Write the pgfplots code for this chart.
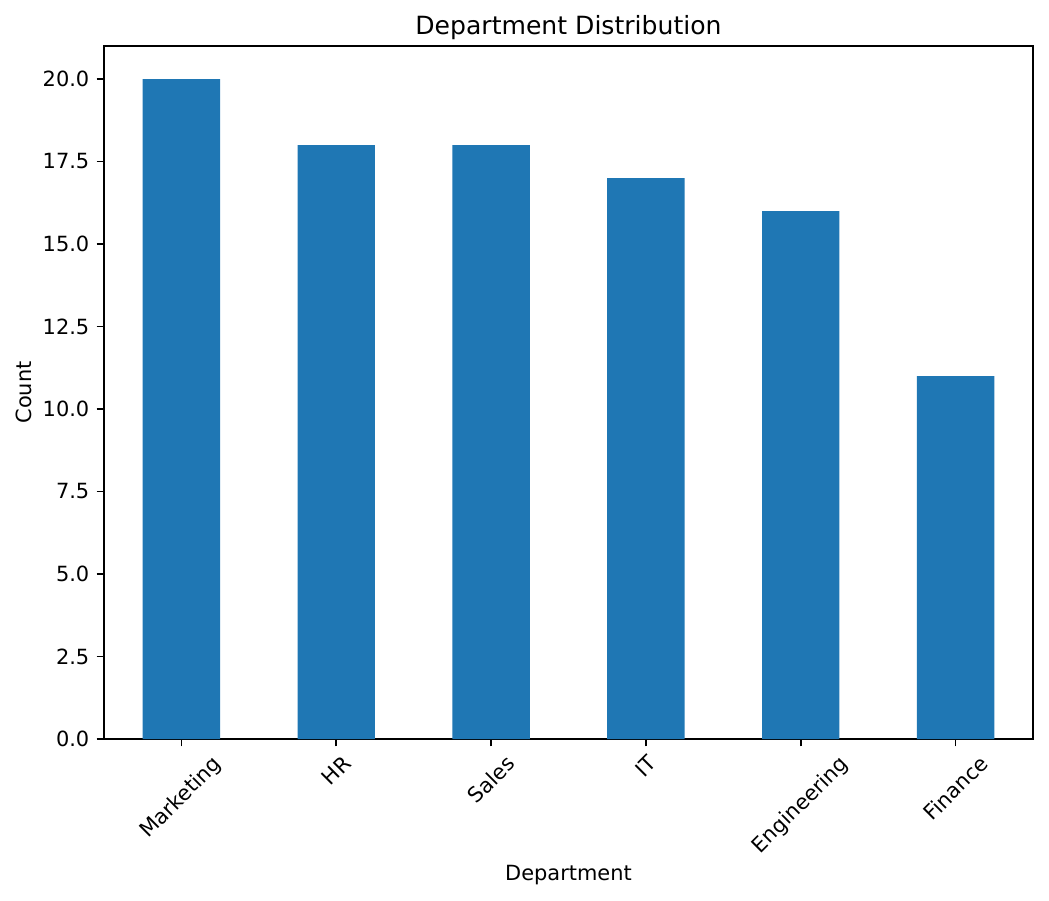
\documentclass[border=0pt]{standalone}
\usepackage{pgfplots}
\pgfplotsset{compat=1.18}
\usepackage{fontspec}
\setmainfont{DejaVu Sans}
\usepackage{graphicx}
\definecolor{barblue}{HTML}{1F77B4}
\begin{document}
\fontsize{10bp}{12bp}\selectfont
\begin{tikzpicture}
\path[use as bounding box] (-49.92pt,-77.28pt) rectangle (453.6pt,354.72pt);
\begin{axis}[
  scale only axis, width=445.92pt, height=332.64pt,
  xmin=-0.5, xmax=5.5, ymin=0, ymax=21,
  xtick={0,1,2,3,4,5},
  xticklabels={\rotatebox{45}{Marketing},\rotatebox{45}{HR},\rotatebox{45}{Sales},\rotatebox{45}{IT},\rotatebox{45}{Engineering},\rotatebox{45}{Finance}},
  ytick={0,2.5,5,7.5,10,12.5,15,17.5,20},
  yticklabel style={/pgf/number format/.cd, fixed, fixed zerofill, precision=1, assume math mode=true},
  xticklabel style={anchor=north, inner sep=0pt, yshift=-3.5bp},
  tick label style={font=\fontsize{10bp}{12bp}\selectfont},
  tick align=outside, major tick length=3.5bp,
  tick style={line width=0.8bp, black},
  axis line style={line width=0.8bp},
  xtick pos=bottom, ytick pos=left,
  title={Department Distribution},
  title style={font=\fontsize{12bp}{14bp}\selectfont, at={(0.5,1)}, anchor=base, yshift=-0.7bp},
  xlabel={Department}, ylabel={Count},
  label style={font=\fontsize{10bp}{12bp}\selectfont},
  ylabel style={yshift=-1.5bp},
  xlabel style={yshift=-0.5bp},
]
\addplot[ybar, bar width=0.5, fill=barblue, draw=none] coordinates {(0,20) (1,18) (2,18) (3,17) (4,16) (5,11)};
\end{axis}
\end{tikzpicture}
\end{document}
